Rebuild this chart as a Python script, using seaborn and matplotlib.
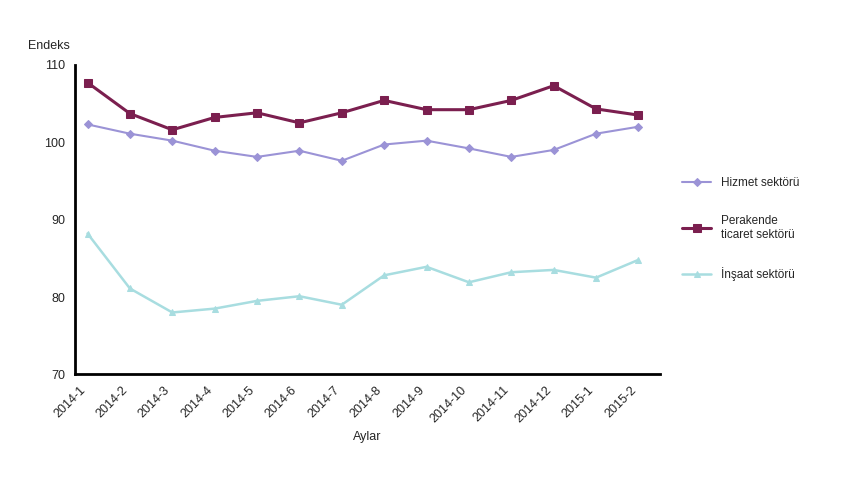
import matplotlib
matplotlib.use('Agg')
import matplotlib.pyplot as plt
import pandas as pd
import seaborn as sns

months = ['2014-1', '2014-2', '2014-3', '2014-4', '2014-5', '2014-6', '2014-7',
          '2014-8', '2014-9', '2014-10', '2014-11', '2014-12', '2015-1', '2015-2']
hizmet = [102.3, 101.1, 100.2, 98.9, 98.1, 98.9, 97.6, 99.7, 100.2, 99.2, 98.1, 99.0, 101.1, 102.0]
perakende = [107.7, 103.7, 101.6, 103.2, 103.8, 102.5, 103.8, 105.4, 104.2, 104.2, 105.4, 107.3, 104.3, 103.5]
insaat = [88.2, 81.1, 78.0, 78.5, 79.5, 80.1, 79.0, 82.8, 83.9, 81.9, 83.2, 83.5, 82.5, 84.8]

sns.set_style('white')
plt.rcParams['font.family'] = ['Liberation Sans', 'DejaVu Sans']

fig = plt.figure(figsize=(8.6, 4.8), dpi=100)
ax = fig.add_axes([0.087, 0.22, 0.68, 0.645])

x = list(range(len(months)))
sns.lineplot(x=x, y=hizmet, ax=ax, color='#9b93d6', marker='D', markersize=4,
             markeredgecolor='#9b93d6', linewidth=1.5, label='Hizmet sektörü')
sns.lineplot(x=x, y=perakende, ax=ax, color='#7b1f4f', marker='s', markersize=6,
             markeredgecolor='#7b1f4f', linewidth=2.2, label='Perakende\nticaret sektörü')
sns.lineplot(x=x, y=insaat, ax=ax, color='#a8dde0', marker='^', markersize=5,
             markeredgecolor='#a8dde0', linewidth=1.8, label='İnşaat sektörü')

ax.set_ylim(70, 110)
ax.set_yticks([70, 80, 90, 100, 110])
ax.set_xlim(-0.3, len(months) - 0.5)
ax.set_xticks(x)
ax.set_xticklabels(months, rotation=45, ha='right', fontsize=9)
ax.tick_params(axis='y', labelsize=9)
ax.set_xlabel('Aylar', fontsize=9)
ax.text(-0.08, 1.05, 'Endeks', transform=ax.transAxes, fontsize=9)
for s in ['top', 'right']:
    ax.spines[s].set_visible(False)
for s in ['left', 'bottom']:
    ax.spines[s].set_color('black')
    ax.spines[s].set_linewidth(2)

ax.legend(loc='center left', bbox_to_anchor=(1.02, 0.47), frameon=False,
          fontsize=8.5, labelspacing=2.2, handlelength=2.5)

fig.savefig('out.png', dpi=100)
